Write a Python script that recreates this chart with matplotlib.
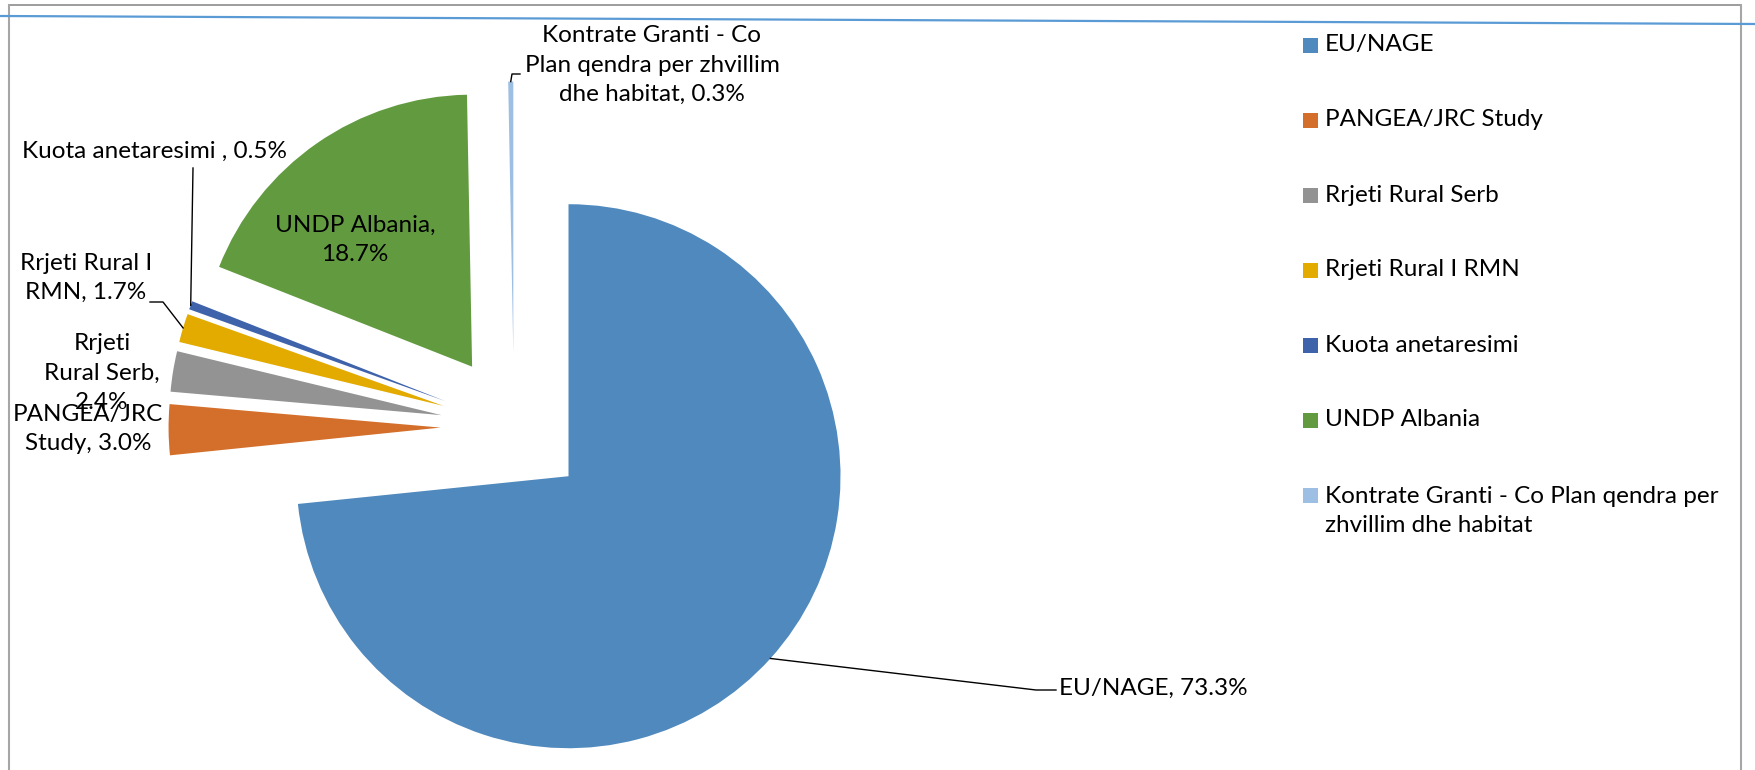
import matplotlib.pyplot as plt
import numpy as np
from matplotlib.lines import Line2D
from matplotlib.patches import Rectangle

# data
labels = ['EU/NAGE', 'PANGEA/JRC Study', 'Rrjeti Rural Serb', 'Rrjeti Rural I RMN',
          'Kuota anetaresimi', 'UNDP Albania',
          'Kontrate Granti - Co Plan qendra per zhvillim dhe habitat']
shares = [73.3, 3.0, 2.4, 1.7, 0.5, 18.7, 0.3]
data_labels = ['EU/NAGE, 73.3%', 'PANGEA/JRC\nStudy, 3.0%', 'Rrjeti\nRural Serb,\n2.4%',
               'Rrjeti Rural I\nRMN, 1.7%', 'Kuota anetaresimi , 0.5%',
               'UNDP Albania,\n18.7%',
               'Kontrate Granti - Co\nPlan qendra per zhvillim\ndhe habitat, 0.3%']
legend_labels = ['EU/NAGE', 'PANGEA/JRC Study', 'Rrjeti Rural Serb', 'Rrjeti Rural I RMN',
                 'Kuota anetaresimi', 'UNDP Albania',
                 'Kontrate Granti - Co Plan qendra per\nzhvillim dhe habitat']
colors = ['#4f89bd', '#d36f2b', '#939393', '#e3aa00', '#3e63ab', '#629b3f', '#9dbfe3']

plt.rcParams['font.family'] = ['Lato', 'DejaVu Sans']
FS = 17.5
LS = 1.5

W, H = 1756, 770
cx, cy, R = 514, 427, 272   # pie centre and radius in pixels

fig = plt.figure(figsize=(W / 100, H / 100), dpi=100)
ax = fig.add_axes([0, 0, 1, 1])

wedges, _ = ax.pie(shares, colors=colors, startangle=90, counterclock=False,
                   explode=[0.27] * len(shares), radius=1,
                   wedgeprops=dict(linewidth=0))
ax.set_xlim(-cx / R, (W - cx) / R)
ax.set_ylim(-(H - cy) / R, cy / R)
ax.set_aspect('equal')
ax.axis('off')


def px(x, y):
    # pixel (top-left origin) -> data coords
    return (x - cx) / R, (cy - y) / R


def anchor(w):
    t = np.deg2rad((w.theta1 + w.theta2) / 2)
    return w.center[0] + w.r * np.cos(t), w.center[1] + w.r * np.sin(t)


def leader(w, *pts):
    a = anchor(w)
    xs = [a[0]] + [px(*p)[0] for p in pts]
    ys = [a[1]] + [px(*p)[1] for p in pts]
    ax.plot(xs, ys, color='black', lw=1)


# leader lines
leader(wedges[0], (1036, 690), (1056, 690))
leader(wedges[4], (193, 168))
leader(wedges[3], (163, 302), (150, 302))
leader(wedges[6], (512, 74), (520, 74))

# data labels
ax.text(*px(1059, 688), data_labels[0], ha='left', va='center', fontsize=FS)
ax.text(*px(88, 429), data_labels[1], ha='center', va='center', fontsize=FS,
        linespacing=LS)
ax.text(*px(102, 373), data_labels[2], ha='center', va='center', fontsize=FS,
        linespacing=LS)
ax.text(*px(86, 278), data_labels[3], ha='center', va='center', fontsize=FS,
        linespacing=LS)
ax.text(*px(154, 151), data_labels[4], ha='center', va='center', fontsize=FS)
ax.text(*px(355, 240), data_labels[5], ha='center', va='center', fontsize=FS,
        linespacing=LS)
ax.text(*px(652, 65), data_labels[6], ha='center', va='center', fontsize=FS,
        linespacing=LS)

# legend drawn by hand
for i, (lab, col) in enumerate(zip(legend_labels, colors)):
    y = 45 + 75 * i
    fig.add_artist(Rectangle((1303 / W, 1 - (y + 7.5) / H), 15 / W, 15 / H,
                             transform=fig.transFigure, color=col, lw=0))
    n = lab.count('\n')
    fig.text(1325 / W, 1 - (y + 16 * n) / H, lab, ha='left', va='center',
             fontsize=FS, linespacing=LS)

# chart frame and the stray blue line at the top
tf = fig.transFigure
fig.add_artist(Line2D([9 / W, 1741 / W], [1 - 5 / H, 1 - 5 / H], transform=tf,
                      color='#8c8c8c', lw=1.2))
fig.add_artist(Line2D([9 / W, 9 / W], [0, 1 - 5 / H], transform=tf,
                      color='#a6a6a6', lw=1.5))
fig.add_artist(Line2D([1741 / W, 1741 / W], [0, 1 - 5 / H], transform=tf,
                      color='#a6a6a6', lw=1.5))
fig.add_artist(Line2D([0, 1], [1 - 16 / H, 1 - 24 / H], transform=tf,
                      color='#5b9bd5', lw=1.6))

fig.savefig('out.png', dpi=100)
